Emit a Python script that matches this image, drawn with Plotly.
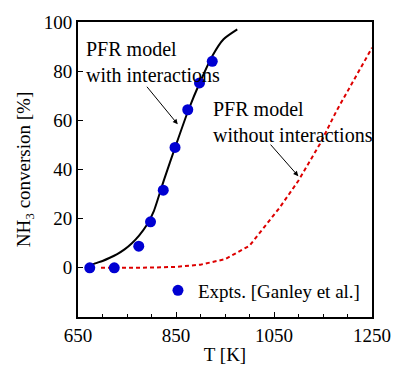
import plotly.graph_objects as go

# Experimental data (Ganley et al.)
expt_T = [674, 724, 774, 798, 824, 848, 874, 898, 924]
expt_X = [0, 0, 8.8, 18.7, 31.6, 49, 64.3, 75.2, 84]

# PFR model with interactions
with_T = [675, 685, 700, 715, 730, 745, 760, 775, 790, 805, 825, 850, 875, 900, 925, 947, 975]
with_X = [1.0, 1.8, 2.8, 4.1, 5.6, 7.5, 10.0, 13.2, 17.3, 23.2, 35.5, 50, 64, 76, 86.5, 93, 97]

# PFR model without interactions
without_T = [697, 750, 800, 850, 900, 950, 1000, 1035, 1062, 1100, 1144, 1178, 1212, 1250]
without_X = [0, 0, 0.1, 0.4, 1.3, 3.5, 9, 17.8, 24.6, 35.5, 50.5, 64, 76, 89.5]

x_ticks = [650, 850, 1050, 1250]
y_ticks = [0, 20, 40, 60, 80, 100]

FONT = "Liberation Serif"
BLUE = "#0000D2"
RED = "#DD0000"

fig = go.Figure()
fig.add_trace(go.Scatter(x=with_T, y=with_X, mode="lines", line_shape="spline",
                         line=dict(color="black", width=2, smoothing=0.6), showlegend=False))
fig.add_trace(go.Scatter(x=without_T, y=without_X, mode="lines",
                         line=dict(color=RED, width=2, dash="4px,3px"), showlegend=False))
fig.add_trace(go.Scatter(x=expt_T, y=expt_X, mode="markers", name="Expts. [Ganley et al.]",
                         marker=dict(color=BLUE, size=11), showlegend=True))

fig.update_layout(
    width=394, height=366,
    margin=dict(l=78, r=22, t=22, b=49, autoexpand=False),
    paper_bgcolor="white", plot_bgcolor="white",
    font=dict(family=FONT, size=19, color="black"),
    legend=dict(x=0.272, y=0.09, xanchor="left", yanchor="middle",
                bgcolor="rgba(0,0,0,0)", font=dict(size=19, family=FONT),
                itemwidth=30, tracegroupgap=0),
    xaxis=dict(range=[650, 1250], tickvals=x_ticks, ticks="inside", ticklen=5,
               tickwidth=1, tickcolor="black", showline=True, linewidth=2,
               linecolor="black", mirror=True, showgrid=False, zeroline=False,
               automargin=False,
               minor=dict(dtick=50, ticks="inside", ticklen=3, tickwidth=1, tickcolor="black"),
               title=dict(text="T [K]", standoff=3, font=dict(size=19, family=FONT)),
               tickfont=dict(size=19, family=FONT)),
    yaxis=dict(range=[-20, 100], tickvals=y_ticks, ticks="inside", ticklen=5,
               tickwidth=1, tickcolor="black", showline=True, linewidth=2,
               linecolor="black", mirror=True, showgrid=False, zeroline=False,
               automargin=False,
               title=dict(text="NH<sub>3</sub> conversion [%]", standoff=8,
                          font=dict(size=19, family=FONT)),
               tickfont=dict(size=19, family=FONT)),
)

fig.add_annotation(text="PFR model<br>with interactions", xref="paper", yref="paper",
                   x=0.022, y=0.866, xanchor="left", yanchor="middle", align="left",
                   showarrow=False, font=dict(size=20, family=FONT))
fig.add_annotation(text="PFR model<br>without interactions", xref="paper", yref="paper",
                   x=0.452, y=0.662, xanchor="left", yanchor="middle", align="left",
                   showarrow=False, font=dict(size=20, family=FONT))
fig.add_annotation(text="", x=853.5, y=58.4, xref="x", yref="y", ax=-32, ay=-39,
                   showarrow=True, arrowhead=2, arrowsize=1, arrowwidth=1,
                   arrowcolor="black", standoff=0)
fig.add_annotation(text="", x=1099.6, y=37.3, xref="x", yref="y", ax=-29, ay=-33,
                   showarrow=True, arrowhead=2, arrowsize=1, arrowwidth=1,
                   arrowcolor="black", standoff=0)

page_css = ("document.documentElement.style.margin='0';"
            "document.documentElement.style.overflow='hidden';"
            "document.body.style.margin='0';"
            "document.body.style.padding='0';"
            "document.body.style.overflow='hidden';")

fig.write_html("out.html", config={"displayModeBar": False}, post_script=page_css)
